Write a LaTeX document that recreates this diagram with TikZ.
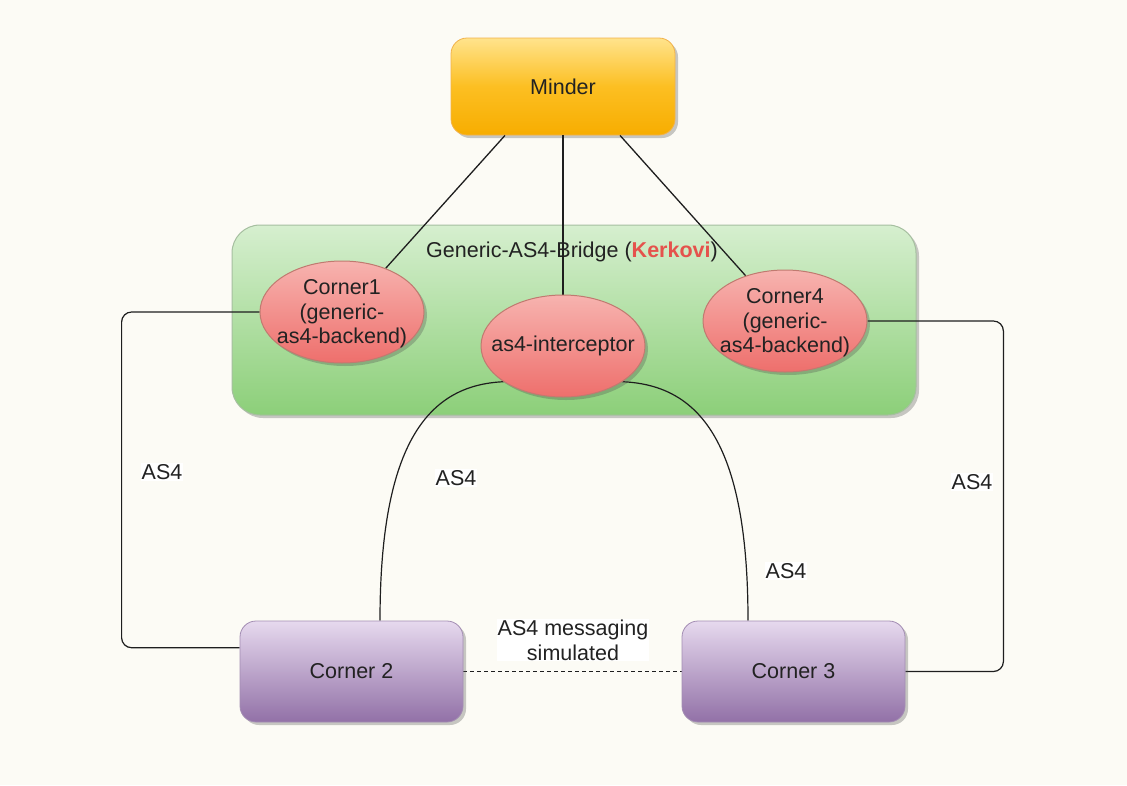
\documentclass[tikz,border=0pt]{standalone}
\usepackage{fontspec}
\setmainfont{Liberation Sans}
\usetikzlibrary{shapes.geometric,shadows,calc}
\pgfdeclarelayer{back}
\pgfdeclarelayer{mid}
\pgfsetlayers{back,mid,main}
\definecolor{bg}{HTML}{FCFBF5}
\definecolor{txt}{HTML}{222222}
\definecolor{linec}{HTML}{1E1E1E}
\definecolor{kred}{HTML}{E5524C}
\definecolor{orTop}{HTML}{FFE38C}
\definecolor{orMid}{HTML}{FCBF22}
\definecolor{orBot}{HTML}{F7AD00}
\definecolor{orBd}{HTML}{F2B24A}
\definecolor{grTop}{HTML}{D6EFCF}
\definecolor{grBot}{HTML}{8CCF79}
\definecolor{grBd}{HTML}{A6BFA0}
\definecolor{reTop}{HTML}{F7B3AF}
\definecolor{reBot}{HTML}{EE6F6C}
\definecolor{reBd}{HTML}{C07A70}
\definecolor{puTop}{HTML}{E6D9EE}
\definecolor{puBot}{HTML}{9271A7}
\definecolor{puBd}{HTML}{A38DB3}
\tikzset{
  basefont/.style={font=\fontsize{21.5}{24.5}\selectfont, text=txt},
  shad/.style={drop shadow={shadow xshift=3pt, shadow yshift=-3pt, opacity=0.3, fill=black!70}},
  conn/.style={draw=linec, line width=1.3pt},
  minderbox/.style={rectangle, rounded corners=16pt, draw=orBd, line width=0.8pt,
    top color=orTop, bottom color=orBot, middle color=orMid,
    minimum width=224pt, minimum height=97pt, inner sep=0pt, shad, basefont},
  bridgebox/.style={rectangle, rounded corners=28pt, draw=grBd, line width=1pt,
    top color=grTop, bottom color=grBot, minimum width=684pt, minimum height=190pt,
    inner sep=0pt, shad},
  ellnode/.style={ellipse, draw=reBd, line width=1pt, top color=reTop, bottom color=reBot,
    minimum width=164pt, minimum height=102pt, inner sep=0pt, shad},
  elltext/.style={basefont, align=center, inner sep=0pt},
  cornerbox/.style={rectangle, rounded corners=16pt, draw=puBd, line width=0.8pt,
    top color=puTop, bottom color=puBot, minimum width=223pt, minimum height=101pt,
    inner sep=0pt, shad, basefont},
  lbl/.style={basefont, fill=white, inner sep=1pt, align=center},
}
\begin{document}
\begin{tikzpicture}[x=1pt,y=-1pt]
\useasboundingbox (0,0) rectangle (1127,785);

\begin{pgfonlayer}{back}
\fill[bg] (0,0) rectangle (1127,785);
\node[bridgebox] (bridge) at (574,320) {};
\node[basefont, inner sep=0pt] (title) at (572,252) {Generic-AS4-Bridge (\textcolor{kred}{\textbf{Kerkovi}})};
\node[minderbox] (m) at (563,86.5) {Minder};
\end{pgfonlayer}

% ellipses
\node[ellnode] (c1) at (342,312) {};
\node[ellnode] (icpt) at (563,346) {};
\node[ellnode] (c4) at (785,321) {};
\node[elltext] (c1t) at ($(c1.center)+(0,2)$) {Corner1\\(generic-\\as4-backend)};
\node[elltext] (ict) at (icpt.center) {as4-interceptor};
\node[elltext] (c4t) at ($(c4.center)+(0,2)$) {Corner4\\(generic-\\as4-backend)};

% corner boxes
\node[cornerbox] (c2) at (351.5,671.5) {Corner 2};
\node[cornerbox] (c3) at (793.5,671.5) {Corner 3};

\begin{pgfonlayer}{mid}
% connectors from Minder
\draw[conn] ($(m.south)+(-58,0)$) -- (c1.45);
\draw[conn] (m.south) -- (icpt.north);
\draw[conn] ($(m.south)+(57,0)$) -- (c4.131);

% side connectors
\draw[conn, line width=1.2pt, rounded corners=10pt] (c1.west) -| ($(c2.168)+(-118,0)$) -- (c2.168);
\draw[conn, line width=1.2pt, rounded corners=10pt] (c4.east) -| ($(c3.east)+(98,0)$) -- (c3.east);

% curved connectors from interceptor
\draw[conn, line width=1.2pt] (icpt.211) .. controls (430,385) and (380,440) .. ($(c2.north)+(28.5,0)$);
\draw[conn, line width=1.2pt] (icpt.329) .. controls (698,385) and (748,440) .. ($(c3.north)+(-45.5,0)$);

% dashed link
\draw[conn, line width=1.2pt, dash pattern=on 4pt off 3pt] (c2.east) -- (c3.west);
\end{pgfonlayer}

% labels
\node[lbl] (l1) at (162,472) {AS4};
\node[lbl] (l2) at (456,478) {AS4};
\node[lbl] (l3) at (786,571) {AS4};
\node[lbl] (l4) at (972,482) {AS4};
\node[lbl, font=\fontsize{21.5}{25}\selectfont] (l5) at (573,640) {AS4 messaging\\simulated};
\end{tikzpicture}
\end{document}
